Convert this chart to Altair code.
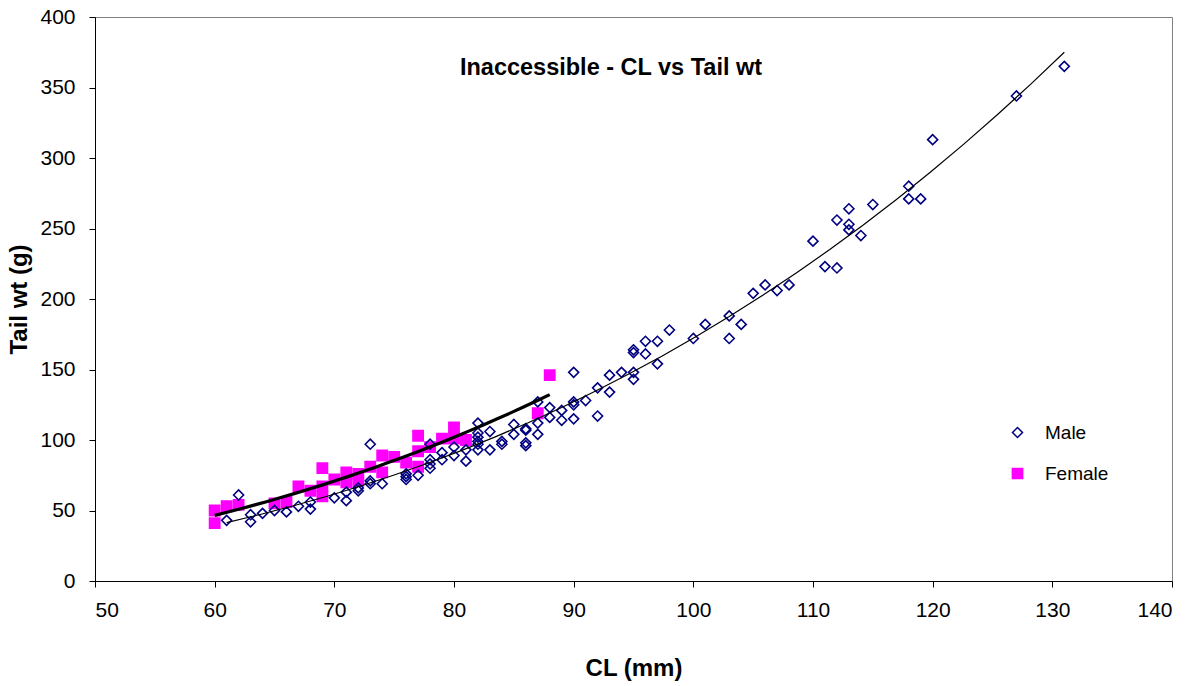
import altair as alt
import pandas as pd

# ---- data ----
male_cl = [61, 62, 63, 63, 64, 65, 66, 67, 68, 68, 70, 71, 71, 72, 72, 73, 73, 73, 74,
           76, 76, 76, 77, 78, 78, 78, 78, 79, 79, 80, 80, 81, 81,
           82, 82, 82, 82, 82, 82, 83, 83, 84, 84, 85, 85, 86, 86, 86, 86, 87, 87, 87,
           88, 88, 89, 89, 90, 90, 90, 90, 91, 92, 92, 93, 93, 94,
           95, 95, 95, 95, 96, 96, 97, 97, 98, 100, 101, 103, 103, 104,
           105, 106, 107, 108, 110, 111, 112, 112, 113, 113, 113, 114, 115,
           118, 118, 119, 120, 127, 131]
male_wt = [43, 61, 47, 42, 48, 50, 49, 53, 56, 51, 59, 63, 57, 66, 64, 97, 71, 69, 69,
           76, 74, 72, 75, 97, 86, 83, 80, 91, 86, 95, 89, 93, 85,
           112, 105, 102, 99, 97, 93, 106, 93, 99, 97, 111, 104, 107, 108, 98, 96, 127, 112, 104,
           123, 116, 121, 114, 148, 127, 125, 115, 128, 137, 117, 146, 134, 148,
           164, 162, 148, 143, 170, 161, 170, 154, 178, 172, 182, 188, 172, 182,
           204, 210, 206, 210, 241, 223, 256, 222, 264, 253, 249, 245, 267,
           280, 271, 271, 313, 344, 365]

female_cl = [60, 60, 61, 62, 65, 66, 67, 68, 69, 69, 69, 70, 71, 71, 72, 72, 73,
             74, 74, 75, 76, 77, 77, 77, 78, 79, 80, 80, 81, 87, 88]
female_wt = [50, 41, 53, 54, 55, 56, 67, 64, 80, 67, 60, 72, 77, 70, 76, 71, 81,
             89, 77, 88, 84, 103, 92, 81, 95, 101, 109, 101, 100, 119, 146]

sexes = ["Male", "Female"]
title_text = "Inaccessible - CL vs Tail wt"
x_ticks = [50, 60, 70, 80, 90, 100, 110, 120, 130, 140]
y_ticks = [0, 50, 100, 150, 200, 250, 300, 350, 400]

df = pd.DataFrame({
    "CL": female_cl + male_cl,
    "wt": female_wt + male_wt,
    "Sex": ["Female"] * len(female_cl) + ["Male"] * len(male_cl),
})

FONT = "Liberation Sans"

x_enc = alt.X("CL:Q", scale=alt.Scale(domain=[50, 140], nice=False, zero=False),
              axis=alt.Axis(values=x_ticks, title="CL (mm)", tickSize=6, labelPadding=12,
                            titlePadding=36, format="d"))
y_enc = alt.Y("wt:Q", scale=alt.Scale(domain=[0, 400], nice=False),
              axis=alt.Axis(values=y_ticks, title="Tail wt (g)", tickSize=6, labelPadding=14,
                            titlePadding=8, format="d"))

legend = alt.Legend(title=None, orient="none", legendX=913, legendY=406, padding=0,
                    labelFont=FONT, labelFontSize=19, labelColor="black",
                    rowPadding=21, labelOffset=18, symbolStrokeWidth=1.5)

base = alt.Chart(df)

points = base.mark_point(strokeWidth=1.6, opacity=1).encode(
    x=x_enc,
    y=y_enc,
    shape=alt.Shape("Sex:N", scale=alt.Scale(domain=sexes, range=["diamond", "square"]), legend=legend),
    stroke=alt.Stroke("Sex:N", scale=alt.Scale(domain=sexes, range=["#000080", "#FF00FF"]), legend=legend),
    fill=alt.Fill("Sex:N", scale=alt.Scale(domain=sexes, range=["transparent", "#FF00FF"]), legend=legend),
    size=alt.Size("Sex:N", scale=alt.Scale(domain=sexes, range=[100, 105]), legend=legend),
)

male_line = base.transform_filter(alt.datum.Sex == "Male").transform_regression(
    "CL", "wt", method="pow"
).mark_line(color="black", strokeWidth=1.2).encode(x="CL:Q", y="wt:Q")

female_line = base.transform_filter(alt.datum.Sex == "Female").transform_regression(
    "CL", "wt", method="pow"
).mark_line(color="black", strokeWidth=3.2).encode(x="CL:Q", y="wt:Q")

title = alt.Chart(pd.DataFrame({"t": [title_text]})).mark_text(
    font=FONT, fontSize=23.5, fontWeight="bold", color="black", align="center", baseline="middle"
).encode(x=alt.value(516), y=alt.value(51), text="t:N")

chart = alt.layer(points, male_line, female_line, title).properties(
    width=1077, height=564,
    autosize=alt.AutoSizeParams(type="none"),
    padding={"left": 95, "top": 17, "right": 27, "bottom": 105},
    background="white",
).configure_view(
    stroke="#808080", strokeWidth=1
).configure_axis(
    grid=False, domainColor="black", tickColor="black", labelColor="black",
    titleColor="black", labelFont=FONT, titleFont=FONT, labelFontSize=21,
    titleFontSize=24, titleFontWeight="bold", domainWidth=1, tickWidth=1
)

chart.save("out.html", embed_options={"renderer": "svg", "actions": False})
